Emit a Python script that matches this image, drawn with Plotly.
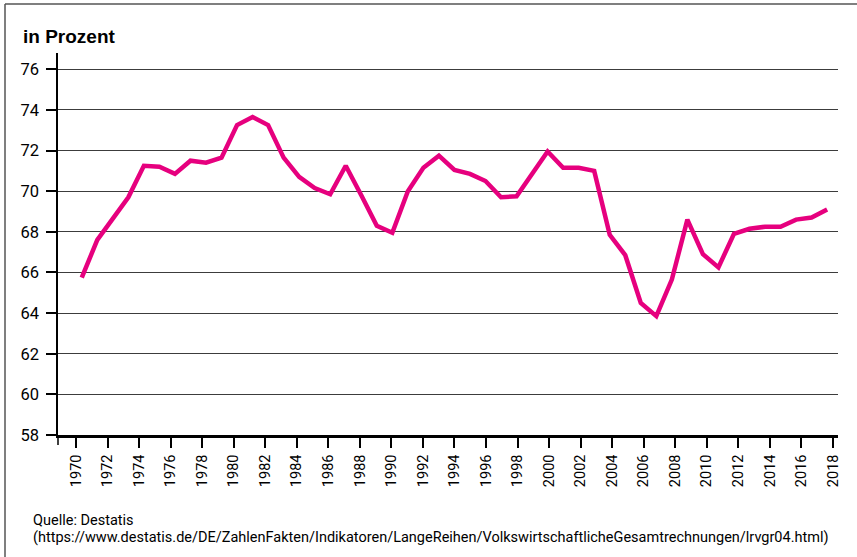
import plotly.graph_objects as go

# ---- data ----
years = list(range(1970, 2019))
lohnquote = [65.75, 67.6, 68.65, 69.7, 71.25, 71.2, 70.85, 71.5, 71.4, 71.65,
             73.25, 73.65, 73.25, 71.65, 70.7, 70.15, 69.85, 71.25, 69.8, 68.3,
             67.95, 70.0, 71.15, 71.75, 71.05, 70.85, 70.5, 69.7, 69.75, 70.85,
             71.95, 71.15, 71.15, 71.0, 67.85, 66.85, 64.5, 63.85, 65.65, 68.6,
             66.9, 66.25, 67.9, 68.15, 68.25, 68.25, 68.6, 68.7, 69.1]
tick_years = list(range(1970, 2019, 2))
y_ticks = list(range(58, 77, 2))
title_text = "in Prozent"
source_line1 = "Quelle: Destatis"
source_line2 = "(https://www.destatis.de/DE/ZahlenFakten/Indikatoren/LangeReihen/VolkswirtschaftlicheGesamtrechnungen/lrvgr04.html)"

# ---- layout geometry (pixels) ----
W, H = 857, 557
L, R, T, B = 58, 19, 53, 122
PW, PH = W - L - R, H - T - B

def px_x(px):
    return (px - L) / PW

def px_y(py):
    return (H - B - py) / PH

NARROW = "Roboto, Liberation Sans, sans-serif"
PINK = "#E6007E"

fig = go.Figure()
fig.add_trace(go.Scatter(
    x=years, y=lohnquote, mode="lines",
    line=dict(color=PINK, width=4.5),
    showlegend=False, hoverinfo="x+y",
))
# helper (empty) trace so the labelled tick axis is drawn
fig.add_trace(go.Scatter(x=[], y=[], xaxis="x2", showlegend=False, hoverinfo="skip"))

fig.update_layout(
    width=W, height=H,
    margin=dict(l=L, r=R, t=T, b=B),
    paper_bgcolor="white", plot_bgcolor="white",
    xaxis=dict(range=[1968.47, 2018.70], visible=False, showgrid=False, zeroline=False),
    xaxis2=dict(
        overlaying="x", side="bottom", anchor="y",
        range=[1968.86, 2018.32],
        tickmode="array", tickvals=tick_years, ticktext=[str(t) for t in tick_years],
        ticks="outside", ticklen=10, tickwidth=1.5, tickcolor="black",
        tickangle=-90,
        tickfont=dict(family=NARROW, size=14.5, color="black"),
        showline=True, linecolor="black", linewidth=2.5,
        showgrid=False, zeroline=False,
        ticklabelstandoff=1,
    ),
    yaxis=dict(
        range=[58, 76.8],
        tickmode="array", tickvals=y_ticks,
        ticks="outside", ticklen=10, tickwidth=1.5, tickcolor="black",
        tickfont=dict(family=NARROW, size=16.5, color="black"),
        showline=True, linecolor="black", linewidth=1.5,
        showgrid=True, gridcolor="#3c3c3c", gridwidth=1.2,
        zeroline=False,
        ticklabelstandoff=4,
    ),
    annotations=[
        dict(text="<b>" + title_text + "</b>", xref="paper", yref="paper",
             x=px_x(21), y=px_y(36.5), xanchor="left", yanchor="middle",
             showarrow=False, font=dict(family="Liberation Sans, Arial, sans-serif", size=19, color="black")),
        dict(text=source_line1, xref="paper", yref="paper",
             x=px_x(31), y=px_y(520), xanchor="left", yanchor="middle",
             showarrow=False, font=dict(family=NARROW, size=14.5, color="black")),
        dict(text=source_line2, xref="paper", yref="paper",
             x=px_x(31), y=px_y(537), xanchor="left", yanchor="middle",
             showarrow=False, font=dict(family=NARROW, size=14.5, color="black")),
    ],
    shapes=[
        # y-axis line extension below baseline
        dict(type="line", xref="paper", yref="paper", x0=0, x1=0,
             y0=0, y1=px_y(445), line=dict(color="black", width=1.5)),
        # frame (top and left)
        dict(type="line", xref="paper", yref="paper", x0=px_x(5), x1=px_x(857),
             y0=px_y(4), y1=px_y(4), line=dict(color="#555555", width=1.5)),
        dict(type="line", xref="paper", yref="paper", x0=px_x(5), x1=px_x(5),
             y0=px_y(4), y1=px_y(557), line=dict(color="#555555", width=1.5)),
    ],
)

fig.write_html("out.html", config={"displayModeBar": False},
               post_script="document.body.style.margin='0';")
